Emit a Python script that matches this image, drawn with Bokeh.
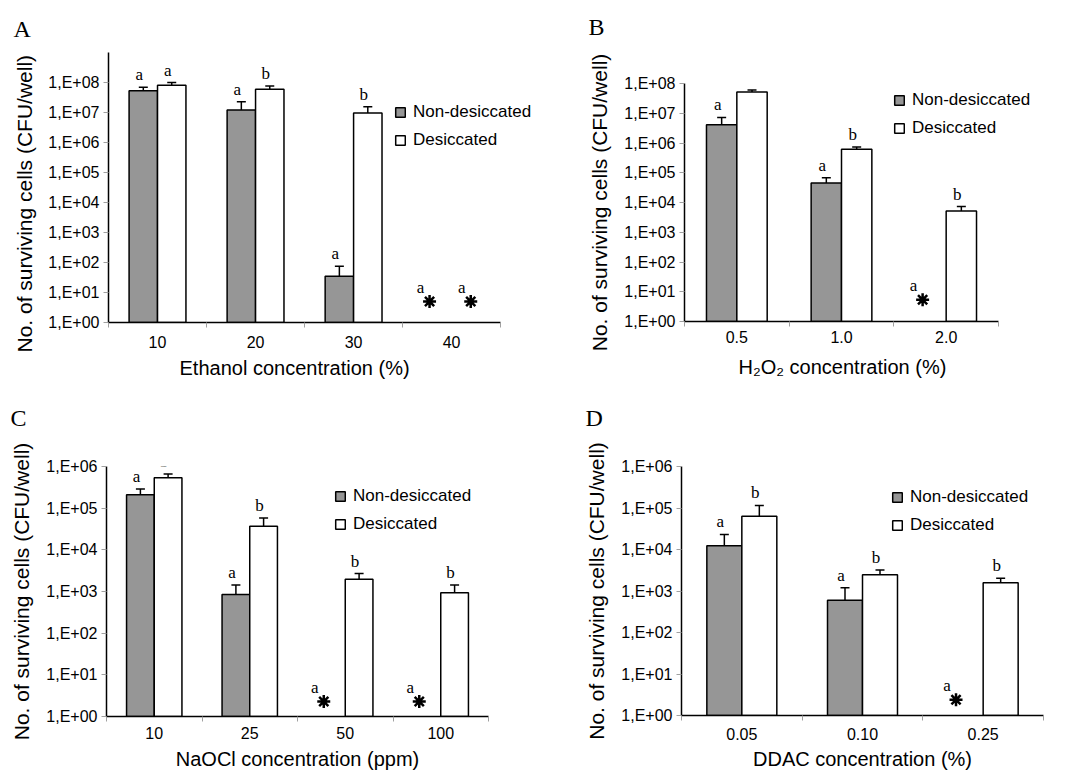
from bokeh.plotting import figure
from bokeh.models import (FixedTicker, Whisker, ColumnDataSource, Legend, LegendItem,
                          Range1d, TeeHead, Title)
from bokeh.layouts import column, row
from bokeh.core.properties import value
from bokeh.embed import file_html
from bokeh.resources import INLINE

# ---------------- data ----------------
series_names = ["Non-desiccated", "Desiccated"]

# Panel A: ethanol
a_cats = ["10", "20", "30", "40"]
a_nondes = [5.3e7, 1.2e7, 35, None]
a_nondes_err = [7.0e7, 2.3e7, 75, None]
a_des = [8.1e7, 6.0e7, 9.6e6, None]
a_des_err = [1.0e8, 7.7e7, 1.55e7, None]
a_nondes_lbl = ["a", "a", "a", "a"]
a_des_lbl = ["a", "b", "b", "a"]

# Panel B: H2O2
b_cats = ["0.5", "1.0", "2.0"]
b_nondes = [4.1e6, 4.5e4, None]
b_nondes_err = [7.2e6, 6.8e4, None]
b_des = [5.2e7, 6.2e5, 5.2e3]
b_des_err = [6.0e7, 7.4e5, 7.3e3]
b_nondes_lbl = ["a", "a", "a"]
b_des_lbl = ["b", "b", "b"]

# Panel C: NaOCl
c_cats = ["10", "25", "50", "100"]
c_nondes = [2.1e5, 850, None, None]
c_nondes_err = [2.9e5, 1430, None, None]
c_des = [5.4e5, 3.7e4, 1960, 930]
c_des_err = [6.6e5, 5.8e4, 2700, 1430]
c_nondes_lbl = ["a", "a", "a", "a"]
c_des_lbl = ["b", "b", "b", "b"]

# Panel D: DDAC
d_cats = ["0.05", "0.10", "0.25"]
d_nondes = [1.23e4, 596, None]
d_nondes_err = [2.3e4, 1.2e3, None]
d_des = [6.3e4, 2.47e3, 1.58e3]
d_des_err = [1.15e5, 3.2e3, 2.04e3]
d_nondes_lbl = ["a", "a", "a"]
d_des_lbl = ["b", "b", "b"]

y_labels_8 = ["1,E+00", "1,E+01", "1,E+02", "1,E+03", "1,E+04",
              "1,E+05", "1,E+06", "1,E+07", "1,E+08"]
y_labels_6 = y_labels_8[:7]

Y_TITLE = "No. of surviving cells (CFU/well)"

SANS = "Liberation Sans"
SERIF = "Liberation Serif"
GREY = "#969696"


def make_panel(letter, cats, nd, nd_err, de, de_err, nd_lbl, de_lbl, ylabels,
               y_top, xtitle, width, height, bl, br, bt, frame_h, axis_w,
               letter_cfg, legend_xy, star_px, tick_standoff, xtitle_cfg,
               ytitle_cfg=None):
    n = len(cats)
    bb = height - bt - frame_h
    frame_w = width - bl - br
    x_end = n * frame_w / axis_w
    p = figure(width=width, height=height, output_backend="svg",
               toolbar_location=None, y_axis_type="log",
               x_range=Range1d(0, x_end), y_range=Range1d(1, y_top),
               min_border_left=bl, min_border_right=br,
               min_border_top=bt, min_border_bottom=bb)
    p.frame_align = False
    p.outline_line_color = None
    p.grid.visible = False
    p.background_fill_color = "white"
    p.border_fill_color = "white"

    bw = 0.29
    star_shift = [-0.08, 0.05]
    renderers = []
    for k, (vals, errs, lbls, fill) in enumerate(
            [(nd, nd_err, nd_lbl, GREY), (de, de_err, de_lbl, "white")]):
        xs, ys, es, ls = [], [], [], []
        sx, slx = [], []
        for i in range(n):
            xc = i + 0.5 + (k - 0.5) * bw
            if vals[i] is None:
                sx.append(xc + star_shift[k])
                slx.append(lbls[i])
            else:
                xs.append(xc)
                ys.append(vals[i])
                es.append(errs[i])
                ls.append(lbls[i])
        src = ColumnDataSource(dict(x=xs, top=ys, err=es, lbl=ls))
        r = p.vbar(x="x", top="top", bottom=1, width=bw, source=src,
                   fill_color=fill, line_color="black", line_width=1.5)
        renderers.append(r)
        w = Whisker(base="x", upper="err", lower="top", source=src,
                    line_color="black", line_width=1.5,
                    upper_head=TeeHead(size=9, line_color="black", line_width=1.5),
                    lower_head=None)
        p.add_layout(w)
        p.text(x="x", y="err", text="lbl", source=src,
               text_font=value(SERIF), text_font_size="17px",
               text_align="center", text_baseline="bottom",
               y_offset=-3, x_offset=-4, text_color="black")
        if sx:
            ystar = (y_top / 1.0) ** (star_px / frame_h)
            ssrc = ColumnDataSource(dict(x=sx, y=[ystar] * len(sx), lbl=slx,
                                         yb=[1] * len(sx)))
            p.scatter(x="x", y="y", source=ssrc, marker="asterisk", size=13,
                      line_color="black", line_width=2.5)
            p.text(x="x", y="yb", text="lbl", source=ssrc,
                   text_font=value(SERIF), text_font_size="17px",
                   text_align="center", text_baseline="alphabetic",
                   y_offset=-(star_px + 14), x_offset=-9, text_color="black")

    # x axis
    xa = p.xaxis[0]
    xa.bounds = (0, n)
    xa.ticker = FixedTicker(ticks=[i + 0.5 for i in range(n)],
                            minor_ticks=list(range(n + 1)))
    xa.major_label_overrides = {i + 0.5: c for i, c in enumerate(cats)}
    xa.major_tick_out = 0
    xa.major_tick_in = 0
    xa.minor_tick_out = 5
    xa.minor_tick_in = 0
    xa.minor_tick_line_color = "#a0a0a0"
    xa.axis_line_color = "black"
    xa.axis_line_width = 1.5
    xa.major_label_text_font = SANS
    xa.major_label_text_font_size = "16px"
    xa.major_label_text_color = "black"
    xa.major_label_standoff = tick_standoff
    mode, off, so = xtitle_cfg
    if mode == "axis":
        xa.axis_label = xtitle
        xa.axis_label_text_font = SANS
        xa.axis_label_text_font_size = "20px"
        xa.axis_label_text_font_style = "normal"
        xa.axis_label_text_color = "black"
        xa.axis_label_standoff = so
    else:
        p.add_layout(Title(text=xtitle, align="left", offset=off, standoff=so,
                           vertical_align="top", text_font=SANS,
                           text_font_size="20px", text_font_style="normal",
                           text_color="black"), "below")

    # y axis
    ya = p.yaxis[0]
    ticks = [10.0 ** k for k in range(len(ylabels))]
    ya.ticker = FixedTicker(ticks=ticks, minor_ticks=[])
    ya.major_label_overrides = {t: l for t, l in zip(ticks, ylabels)}
    ya.major_tick_out = 5
    ya.major_tick_in = 0
    ya.major_tick_line_color = "#a0a0a0"
    ya.minor_tick_out = 0
    ya.minor_tick_in = 0
    ya.axis_line_color = "black"
    ya.axis_line_width = 1.5
    ya.major_label_text_font = SANS
    ya.major_label_text_font_size = "16px"
    ya.major_label_text_color = "black"
    ya.major_label_standoff = 4
    if ytitle_cfg is None:
        ya.axis_label = Y_TITLE
        ya.axis_label_text_font = SANS
        ya.axis_label_text_font_size = "21px"
        ya.axis_label_text_font_style = "normal"
        ya.axis_label_text_color = "black"
        ya.axis_label_standoff = 10
    else:
        yoff, yso = ytitle_cfg
        p.add_layout(Title(text=Y_TITLE, align="left", offset=yoff, standoff=yso,
                           vertical_align="bottom", text_font=SANS,
                           text_font_size="21px", text_font_style="normal",
                           text_color="black"), "left")

    # panel letter as title
    loff, lso, lines = letter_cfg
    p.title = Title(text=letter + "\n" * lines, align="left", offset=loff,
                    standoff=lso, vertical_align="bottom",
                    text_font=SERIF, text_font_size="24px",
                    text_font_style="normal", text_color="black",
                    text_line_height=1.2)

    leg_h = 48
    leg = Legend(items=[LegendItem(label=series_names[0], renderers=[renderers[0]]),
                        LegendItem(label=series_names[1], renderers=[renderers[1]])],
                 location=(legend_xy[0], frame_h - (legend_xy[1] - 10) - leg_h),
                 glyph_width=12, glyph_height=12, label_standoff=7,
                 label_text_font=SANS, label_text_font_size="17px",
                 label_text_color="black", spacing=8, padding=0, margin=0,
                 border_line_color=None, background_fill_alpha=0,
                 label_height=20)
    p.add_layout(leg)
    return p


W1, W2 = 560, 505
H1, H2 = 390, 382

pA = make_panel("A", a_cats, a_nondes, a_nondes_err, a_des, a_des_err,
                a_nondes_lbl, a_des_lbl, y_labels_8, 1e9,
                "Ethanol concentration (%)", W1, H1, 107, 0, 52, 270, 393,
                (-95, 22, 0), (286, 60), 21, 8, ("title", 71, 12),
                ytitle_cfg=(-30, 20))
pB = make_panel("B", b_cats, b_nondes, b_nondes_err, b_des, b_des_err,
                b_nondes_lbl, b_des_lbl, y_labels_8, 1e8,
                "H\u2082O\u2082 concentration (%)", W2, H1, 124, 0, 81, 240, 314,
                (-96, 24, 1), (209, 19), 22, 4, ("title", 54, 20))
pC = make_panel("C", c_cats, c_nondes, c_nondes_err, c_des, c_des_err,
                c_nondes_lbl, c_des_lbl, y_labels_6, 1e6,
                "NaOCl concentration (ppm)", W1, H2, 106, 72, 76, 251, 382,
                (-96, 8, 1), (228, 31), 15, 5, ("axis", 0, 6))
pD = make_panel("D", d_cats, d_nondes, d_nondes_err, d_des, d_des_err,
                d_nondes_lbl, d_des_lbl, y_labels_6, 1e6,
                "DDAC concentration (%)", W2, H2, 121, 22, 76, 252, 362,
                (-96, 8, 1), (210, 34), 16, 7, ("axis", 0, 5))

layout = column(row(pA, pB), row(pC, pD))
open("out.html", "w").write(file_html(layout, INLINE))
